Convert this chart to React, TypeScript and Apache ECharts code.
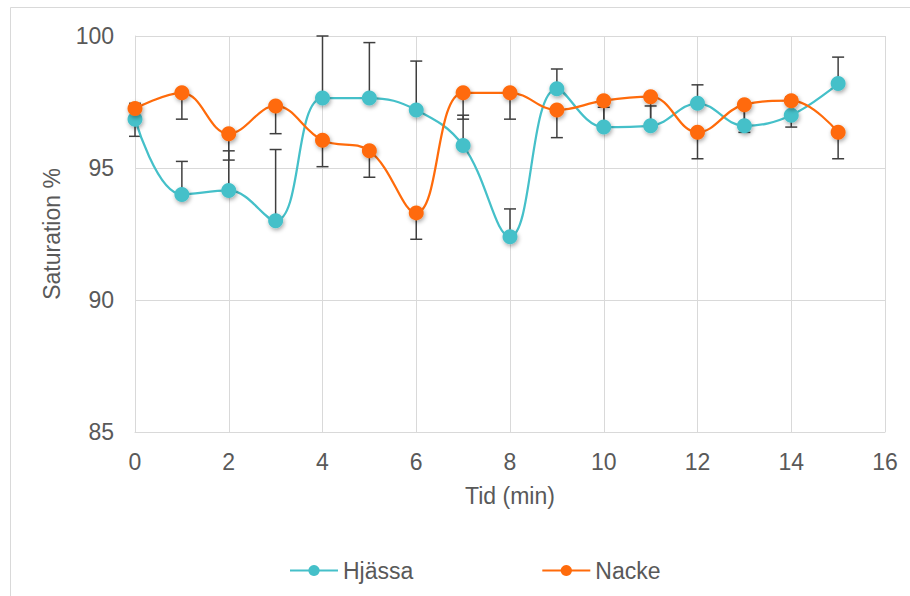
import React, { useEffect, useRef } from "react";
import * as echarts from "echarts";

const minutes = [0, 1, 2, 3, 4, 5, 6, 7, 8, 9, 10, 11, 12, 13, 14, 15];
const hjassa = [96.85, 94.0, 94.15, 93.0, 97.65, 97.65, 97.2, 95.85, 92.4, 98.0, 96.55, 96.6, 97.45, 96.6, 97.0, 98.2];
const hjassaErrPlus = [0.6, 1.25, 1.5, 2.7, 2.35, 2.1, 1.85, 1.15, 1.05, 0.75, 0.75, 0.75, 0.7, 0.7, 0.7, 1.0];
const nacke = [97.25, 97.85, 96.3, 97.35, 96.05, 95.65, 93.3, 97.85, 97.85, 97.2, 97.55, 97.7, 96.35, 97.4, 97.55, 96.35];
const nackeErrMinus = [1.05, 1.0, 1.0, 1.05, 1.0, 1.0, 1.0, 1.0, 1.0, 1.05, 1.0, 1.0, 1.0, 1.05, 1.0, 1.0];

const xTicks = { min: 0, max: 16, interval: 2 };
const yTicks = { min: 85, max: 100, interval: 5 };

const TEAL = "#45C0C9";
const ORANGE = "#FF6B0B";
const TEXT = "#595959";
const GRID = "#D9D9D9";
const FONT = "'Liberation Sans', Arial, sans-serif";
const FS = 23;

function errorRenderItem(params: any, api: any) {
  const x = api.value(0);
  const lo = api.coord([x, api.value(1)]);
  const hi = api.coord([x, api.value(2)]);
  const half = 6;
  const style = { stroke: "#3f3f3f", lineWidth: 1.5, fill: "none" };
  return {
    type: "group",
    children: [
      { type: "line", shape: { x1: lo[0], y1: lo[1], x2: hi[0], y2: hi[1] }, style },
      { type: "line", shape: { x1: lo[0] - half, y1: lo[1], x2: lo[0] + half, y2: lo[1] }, style },
      { type: "line", shape: { x1: hi[0] - half, y1: hi[1], x2: hi[0] + half, y2: hi[1] }, style },
    ],
  };
}

export default function App() {
  const ref = useRef<HTMLDivElement>(null);
  useEffect(() => {
    document.body.style.margin = "0";
    if (!ref.current) return;
    const chart = echarts.init(ref.current, null, { renderer: "svg" });
    const hjData = minutes.map((m, i) => [m, hjassa[i]]);
    const naData = minutes.map((m, i) => [m, nacke[i]]);
    const hjErr = minutes.map((m, i) => [m, hjassa[i], hjassa[i] + hjassaErrPlus[i]]);
    const naErr = minutes.map((m, i) => [m, nacke[i] - nackeErrMinus[i], nacke[i]]);
    const markerStyle = (c: string) => ({
      color: c,
      shadowBlur: 4,
      shadowColor: "rgba(0,0,0,0.35)",
      shadowOffsetX: 1,
      shadowOffsetY: 2,
    });
    chart.setOption({
      animation: false,
      backgroundColor: "#ffffff",
      textStyle: { fontFamily: FONT },
      graphic: [
        {
          type: "rect",
          shape: { x: 10.5, y: 7.5, width: 920, height: 620 },
          style: { fill: "none", stroke: GRID, lineWidth: 1 },
          silent: true,
        },
      ],
      grid: { left: 135, right: 25, top: 36, bottom: 164 },
      legend: {
        left: 284,
        top: 554,
        itemWidth: 48,
        itemHeight: 14,
        itemGap: 128,
        textStyle: { color: TEXT, fontSize: FS, fontFamily: FONT },
        data: ["Hjässa", "Nacke"],
      },
      xAxis: {
        type: "value",
        min: xTicks.min,
        max: xTicks.max,
        interval: xTicks.interval,
        name: "Tid (min)",
        nameLocation: "middle",
        nameGap: 52,
        nameTextStyle: { color: TEXT, fontSize: FS, fontFamily: FONT },
        axisLine: { show: true, lineStyle: { color: GRID, width: 1 } },
        axisTick: { show: false },
        axisLabel: { color: TEXT, fontSize: FS, margin: 18, fontFamily: FONT },
        splitLine: { show: true, lineStyle: { color: GRID, width: 1 } },
      },
      yAxis: {
        type: "value",
        min: yTicks.min,
        max: yTicks.max,
        interval: yTicks.interval,
        name: "Saturation %",
        nameLocation: "middle",
        nameGap: 72,
        nameTextStyle: { color: TEXT, fontSize: FS, fontFamily: FONT },
        axisLine: { show: true, lineStyle: { color: GRID, width: 1 } },
        axisTick: { show: false },
        axisLabel: { color: TEXT, fontSize: FS, margin: 21, fontFamily: FONT },
        splitLine: { show: true, lineStyle: { color: GRID, width: 1 } },
      },
      series: [
        {
          name: "HjässaErr",
          type: "custom",
          renderItem: errorRenderItem,
          data: hjErr,
          z: 1,
          silent: true,
          encode: { x: 0, y: [1, 2] },
        },
        {
          name: "NackeErr",
          type: "custom",
          renderItem: errorRenderItem,
          data: naErr,
          z: 1,
          silent: true,
          encode: { x: 0, y: [1, 2] },
        },
        {
          name: "Hjässa",
          type: "line",
          data: hjData,
          smooth: 0.4,
          symbol: "circle",
          symbolSize: 15,
          z: 3,
          lineStyle: { color: TEAL, width: 2.25 },
          itemStyle: markerStyle(TEAL),
          color: TEAL,
        },
        {
          name: "Nacke",
          type: "line",
          data: naData,
          smooth: 0.4,
          symbol: "circle",
          symbolSize: 15,
          z: 4,
          lineStyle: { color: ORANGE, width: 2.25 },
          itemStyle: markerStyle(ORANGE),
          color: ORANGE,
        },
      ],
    });
    return () => chart.dispose();
  }, []);
  return <div ref={ref} style={{ width: 910, height: 596 }} />;
}
